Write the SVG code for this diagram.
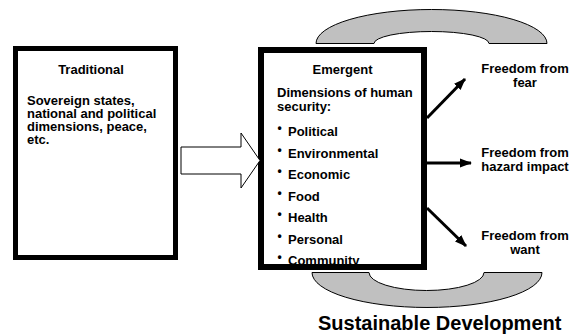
<svg xmlns="http://www.w3.org/2000/svg" width="574" height="335" viewBox="0 0 574 335">
<defs>
<style>
text{font-family:"Liberation Sans",Arial,sans-serif;font-weight:bold;fill:#000}
.t{font-size:13px}
.c{text-anchor:middle}
.b{font-size:12px}
.box{fill:#fff;stroke:#000}
.arc{fill:#c0c0c0;stroke:#000;stroke-width:1}
.conn{stroke:#000;stroke-width:3;fill:none}
</style>
<marker id="ah" markerUnits="userSpaceOnUse" markerWidth="12" markerHeight="10" refX="11" refY="5" orient="auto" viewBox="0 0 12 10">
<path d="M0,0.5 L12,5 L0,9.5 z" fill="#000"/>
</marker>
</defs>
<rect width="574" height="335" fill="#fff"/>
<g id="arc-top"><path class="arc" d="M316,43.5 A115.5,34 0 0 1 547,43.5 L489,43.5 A57.5,12 0 0 0 374,43.5 Z"/></g>
<g id="arc-bottom"><path class="arc" d="M312,272.5 A115,35 0 0 0 542,272.5 L484,272.5 A57.5,18 0 0 1 369,272.5 Z"/></g>
<g id="traditional">
<rect class="box" x="15.5" y="48.5" width="160" height="209" stroke-width="5"/>
<text class="t c" x="91" y="74">Traditional</text>
<text class="t" x="27" y="104.5">Sovereign states,</text>
<text class="t" x="27" y="117.5">national and political</text>
<text class="t" x="27" y="130.5">dimensions, peace,</text>
<text class="t" x="27" y="143.5">etc.</text>
</g>
<g id="emergent">
<rect class="box" x="261" y="50" width="163" height="217" stroke-width="6"/>
<text class="t c" x="342.5" y="74">Emergent</text>
<text class="t" x="277" y="97">Dimensions of human</text>
<text class="t" x="277" y="110.5">security:</text>
<g class="t">
<text class="b" x="277.5" y="132">•</text><text x="288" y="136">Political</text>
<text class="b" x="277.5" y="153.5">•</text><text x="288" y="157.5">Environmental</text>
<text class="b" x="277.5" y="175">•</text><text x="288" y="179">Economic</text>
<text class="b" x="277.5" y="196.5">•</text><text x="288" y="200.5">Food</text>
<text class="b" x="277.5" y="218">•</text><text x="288" y="222">Health</text>
<text class="b" x="277.5" y="239.5">•</text><text x="288" y="243.5">Personal</text>
<text class="b" x="277.5" y="261">•</text><text x="288" y="265">Community</text>
</g>
</g>
<g id="fear"><text class="t c" x="525" y="73">Freedom from</text><text class="t c" x="525" y="87">fear</text></g>
<g id="hazard"><text class="t c" x="525" y="157">Freedom from</text><text class="t c" x="525" y="171">hazard impact</text></g>
<g id="want"><text class="t c" x="525" y="240">Freedom from</text><text class="t c" x="525" y="254">want</text></g>
<g id="sd"><text x="318" y="330" font-size="20">Sustainable Development</text></g>
<g id="connectors">
<polygon points="181,147 241,147 241,133 260,160.5 241,188 241,174 181,174" fill="#fff" stroke="#000" stroke-width="1"/>
<line class="conn" x1="427" y1="118" x2="465" y2="79" marker-end="url(#ah)"/>
<line class="conn" x1="427" y1="163" x2="471" y2="163" marker-end="url(#ah)"/>
<line class="conn" x1="427" y1="208" x2="466" y2="246" marker-end="url(#ah)"/>
</g>
</svg>
